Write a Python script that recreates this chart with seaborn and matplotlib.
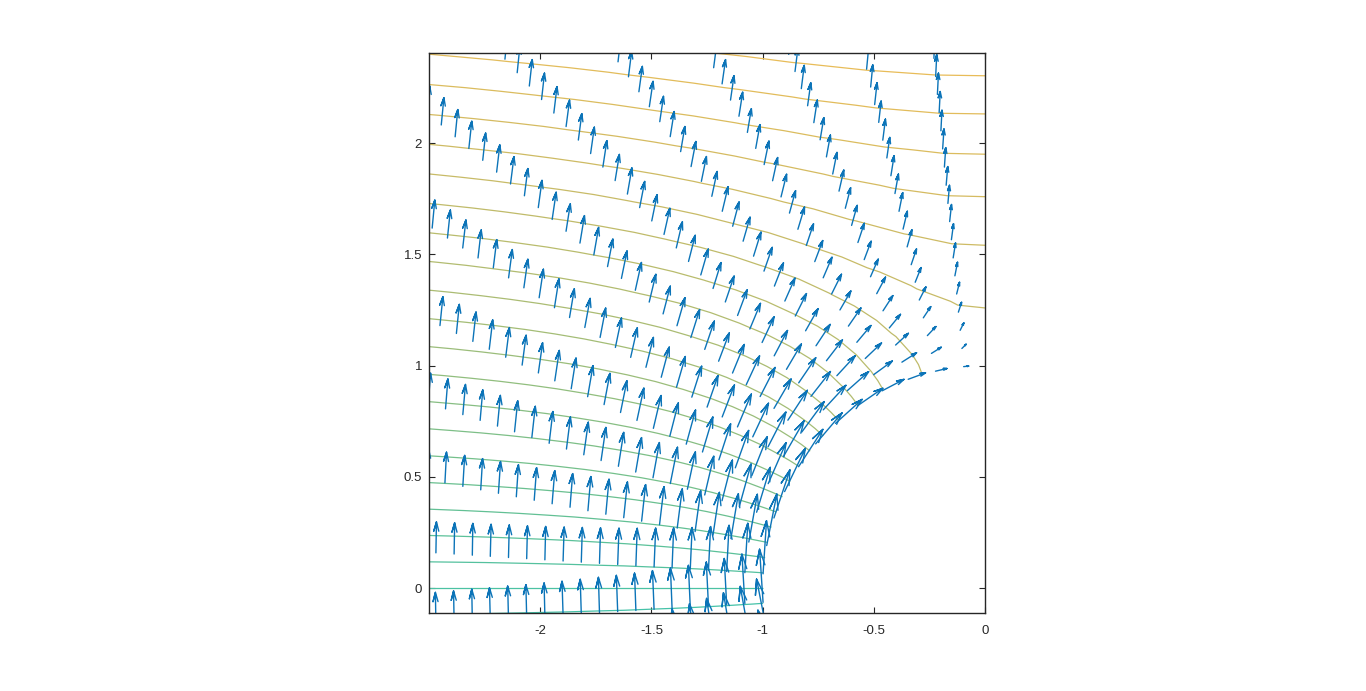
import numpy as np
import pandas as pd
import matplotlib
matplotlib.use("Agg")
import matplotlib.pyplot as plt
import seaborn as sns

# ---- arrows: one list per ray, entries follow radius_values outward ----
radius_values = [1.0, 1.082, 1.164, 1.246, 1.328, 1.41, 1.491, 1.573, 1.655, 1.737,
                 1.819, 1.901, 1.983, 2.065, 2.147, 2.229, 2.31, 2.392, 2.474, 2.556,
                 2.638, 2.72, 2.802, 2.884, 2.966, 3.048, 3.129, 3.211, 3.293]
ray_angles = [-18.37, -11.02, -3.67, 3.67, 11.02, 18.37, 25.71, 33.06, 40.41,
              47.76, 55.10, 62.45, 69.80, 77.14, 84.49]
u_by_ray = [
    [-.60, -.51],
    [-.38, -.32, -.28, -.24, -.21, -.19, -.17],
    [-.13, -.11, -.09, -.08, -.07, -.06, -.06, -.05, -.05, -.04, -.04, -.04, -.03, -.03, -.03, -.03, -.02, -.02, -.02, -.02],
    [.13, .11, .09, .08, .07, .06, .06, .05, .05, .04, .04, .04, .03, .03, .03, .03, .02, .02, .02, .02],
    [.38, .32, .28, .24, .21, .19, .17, .15, .14, .12, .11, .10, .10, .09, .08, .08, .07, .07, .06, .06],
    [.60, .51, .44, .39, .34, .30, .27, .24, .22, .20, .18, .17, .15, .14, .13, .12, .11, .10, .10, .09, .09],
    [.78, .67, .58, .50, .44, .39, .35, .32, .29, .26, .24, .22, .20, .18, .17, .16, .15, .14, .13, .12, .11, .11, .10],
    [.91, .78, .67, .59, .52, .46, .41, .37, .33, .30, .28, .25, .23, .21, .20, .18, .17, .16, .15, .14, .13, .12, .12, .11, .10],
    [.99, .84, .73, .64, .56, .50, .44, .40, .36, .33, .30, .27, .25, .23, .21, .20, .18, .17, .16, .15, .14, .13, .13, .12, .11, .11, .10, .10, .09],
    [1.00, .85, .73, .64, .56, .50, .45, .40, .36, .33, .30, .28, .25, .23, .22, .20, .19, .17, .16, .15, .14, .13, .13, .12, .11, .11, .10, .10, .09],
    [.94, .80, .69, .60, .53, .47, .42, .38, .34, .31, .28, .26, .24, .22, .20, .19, .18, .16, .15, .14, .14, .13, .12, .11, .11],
    [.82, .70, .61, .53, .47, .41, .37, .33, .30, .27, .25, .23, .21, .19, .18, .16, .15, .14, .13, .13, .12, .11],
    [.65, .55, .48, .42, .37, .33, .29, .26, .24, .21, .20, .18, .16, .15, .14, .13, .12, .11, .11, .10],
    [.43, .37, .32, .28, .25, .22, .20, .18, .16, .14, .13, .12, .11, .10, .09, .09, .08, .08, .07],
    [.19, .16, .14, .12, .11, .10, .09, .08, .07, .06, .06, .05, .05, .04, .04, .04, .04, .03],
]
v_by_ray = [
    [1.80, 1.68],
    [1.93, 1.79, 1.68, 1.60, 1.53, 1.47, 1.42],
    [1.99, 1.85, 1.73, 1.64, 1.56, 1.50, 1.45, 1.40, 1.36, 1.33, 1.30, 1.27, 1.25, 1.23, 1.22, 1.20, 1.19, 1.17, 1.16, 1.15],
    [1.99, 1.85, 1.73, 1.64, 1.56, 1.50, 1.45, 1.40, 1.36, 1.33, 1.30, 1.27, 1.25, 1.23, 1.22, 1.20, 1.19, 1.17, 1.16, 1.15],
    [1.93, 1.79, 1.68, 1.60, 1.53, 1.47, 1.42, 1.37, 1.34, 1.31, 1.28, 1.26, 1.24, 1.22, 1.20, 1.19, 1.17, 1.16, 1.15, 1.14],
    [1.80, 1.68, 1.59, 1.52, 1.45, 1.40, 1.36, 1.32, 1.29, 1.27, 1.24, 1.22, 1.20, 1.19, 1.17, 1.16, 1.15, 1.14, 1.13, 1.12, 1.12],
    [1.62, 1.53, 1.46, 1.40, 1.35, 1.31, 1.28, 1.25, 1.23, 1.21, 1.19, 1.17, 1.16, 1.15, 1.14, 1.13, 1.12, 1.11, 1.10, 1.10, 1.09, 1.08, 1.08],
    [1.40, 1.35, 1.30, 1.26, 1.23, 1.20, 1.18, 1.16, 1.15, 1.13, 1.12, 1.11, 1.10, 1.10, 1.09, 1.08, 1.08, 1.07, 1.07, 1.06, 1.06, 1.05, 1.05, 1.05, 1.05],
    [1.16, 1.14, 1.12, 1.10, 1.09, 1.08, 1.07, 1.06, 1.06, 1.05, 1.05, 1.04, 1.04, 1.04, 1.03, 1.03, 1.03, 1.03, 1.03, 1.02, 1.02, 1.02, 1.02, 1.02, 1.02, 1.02, 1.02, 1.02, 1.01],
    [.90, .92, .93, .94, .95, .95, .96, .96, .96, .97, .97, .97, .98, .98, .98, .98, .98, .98, .98, .99, .99, .99, .99, .99, .99, .99, .99, .99, .99],
    [.65, .71, .75, .78, .80, .83, .84, .86, .87, .89, .90, .90, .91, .92, .93, .93, .94, .94, .94, .95, .95, .95, .96, .96, .96],
    [.43, .51, .58, .63, .68, .71, .74, .77, .79, .81, .83, .84, .85, .87, .88, .89, .89, .90, .91, .91, .92, .92],
    [.24, .35, .44, .51, .57, .62, .66, .69, .72, .75, .77, .79, .81, .82, .83, .85, .86, .87, .88, .88],
    [.10, .23, .34, .42, .49, .55, .59, .64, .67, .70, .73, .75, .77, .79, .80, .82, .83, .84, .85],
    [.02, .16, .28, .37, .44, .51, .56, .60, .64, .68, .70, .73, .75, .77, .79, .80, .82, .83],
]

# ---- contour field on a polar table (rows: angle, columns: radius) ----
field_radii = [1, 1.05, 1.1, 1.2, 1.3, 1.4, 1.5, 1.625, 1.75, 1.875, 2, 2.125, 2.25,
               2.375, 2.5, 2.625, 2.75, 2.875, 3, 3.125, 3.25, 3.375, 3.5]
field_angles = [-11.02, -3.67, 3.67, 11.02, 18.37, 25.71, 33.06, 40.41, 47.76,
                55.10, 62.45, 69.80, 77.14, 84.49, 91.84]
field_values = [
    [-.382, -.383, -.384, -.389, -.395, -.404, -.414, -.428, -.444, -.460, -.478, -.496, -.515, -.534, -.554, -.574, -.595, -.616, -.637, -.658, -.680, -.702, -.723],
    [-.128, -.128, -.129, -.130, -.132, -.135, -.139, -.143, -.149, -.154, -.160, -.166, -.172, -.179, -.186, -.192, -.199, -.206, -.213, -.220, -.228, -.235, -.242],
    [.128, .128, .129, .130, .132, .135, .139, .143, .149, .154, .160, .166, .172, .179, .186, .192, .199, .206, .213, .220, .228, .235, .242],
    [.382, .383, .384, .389, .395, .404, .414, .428, .444, .460, .478, .496, .515, .534, .554, .574, .595, .616, .637, .658, .680, .702, .723],
    [.630, .631, .633, .641, .652, .666, .683, .706, .732, .759, .788, .818, .849, .881, .914, .947, .981, 1.016, 1.051, 1.086, 1.121, 1.157, 1.193],
    [.868, .869, .872, .882, .898, .917, .940, .972, 1.007, 1.045, 1.085, 1.126, 1.169, 1.213, 1.258, 1.304, 1.351, 1.398, 1.446, 1.494, 1.543, 1.593, 1.642],
    [1.091, 1.092, 1.096, 1.109, 1.129, 1.153, 1.182, 1.222, 1.266, 1.314, 1.364, 1.416, 1.470, 1.525, 1.582, 1.640, 1.698, 1.758, 1.818, 1.879, 1.941, 2.003, 2.065],
    [1.297, 1.298, 1.303, 1.318, 1.341, 1.371, 1.405, 1.452, 1.505, 1.561, 1.621, 1.683, 1.747, 1.813, 1.880, 1.949, 2.019, 2.089, 2.161, 2.233, 2.306, 2.380, 2.454],
    [1.481, 1.483, 1.488, 1.506, 1.532, 1.566, 1.604, 1.659, 1.719, 1.783, 1.851, 1.922, 1.995, 2.071, 2.147, 2.226, 2.306, 2.386, 2.468, 2.551, 2.634, 2.719, 2.803],
    [1.640, 1.642, 1.648, 1.668, 1.697, 1.734, 1.777, 1.838, 1.904, 1.975, 2.051, 2.129, 2.210, 2.293, 2.379, 2.466, 2.554, 2.643, 2.734, 2.826, 2.918, 3.011, 3.105],
    [1.773, 1.775, 1.781, 1.803, 1.835, 1.875, 1.921, 1.986, 2.058, 2.135, 2.217, 2.301, 2.389, 2.479, 2.571, 2.665, 2.761, 2.857, 2.955, 3.054, 3.154, 3.255, 3.356],
    [1.877, 1.879, 1.886, 1.908, 1.942, 1.984, 2.033, 2.103, 2.179, 2.260, 2.346, 2.436, 2.529, 2.624, 2.722, 2.821, 2.922, 3.025, 3.128, 3.233, 3.339, 3.445, 3.553],
    [1.950, 1.952, 1.959, 1.982, 2.017, 2.061, 2.112, 2.184, 2.263, 2.348, 2.437, 2.530, 2.627, 2.726, 2.827, 2.931, 3.035, 3.142, 3.250, 3.359, 3.468, 3.579, 3.691],
    [1.991, 1.993, 2.000, 2.024, 2.060, 2.105, 2.157, 2.230, 2.311, 2.397, 2.489, 2.584, 2.682, 2.783, 2.887, 2.992, 3.099, 3.208, 3.318, 3.429, 3.541, 3.654, 3.768],
    [1.999, 2.001, 2.008, 2.032, 2.068, 2.113, 2.166, 2.239, 2.320, 2.407, 2.499, 2.594, 2.693, 2.795, 2.899, 3.004, 3.112, 3.221, 3.332, 3.443, 3.556, 3.669, 3.784],
]
contour_levels = [-.137, 0, .137, .274, .410, .547, .684, .821, .958, 1.094, 1.231,
                  1.368, 1.505, 1.642, 1.778, 1.915, 2.052, 2.189, 2.326, 2.462, 2.599, 2.736]

x_ticks = [-2, -1.5, -1, -.5, 0]
y_ticks = [0, .5, 1, 1.5, 2]
x_tick_labels = ["-2", "-1.5", "-1", "-0.5", "0"]
y_tick_labels = ["0", "0.5", "1", "1.5", "2"]

sns.set_theme(style="white")
plt.rcParams["font.family"] = ["Liberation Sans", "DejaVu Sans"]

W, H = 1366, 691
fig = plt.figure(figsize=(W / 100, H / 100), dpi=100, facecolor="white")
ax = fig.add_axes([429 / W, (H - 613) / H, 556 / W, 560 / H])

# contours
rr, tt = np.meshgrid(field_radii, np.radians(field_angles))
line_colors = sns.blend_palette(["#45c2a8", "#6cc08e", "#a0bd78", "#c6bb68", "#e8bc58"],
                                n_colors=len(contour_levels))
ax.contour(-rr * np.cos(tt), rr * np.sin(tt), np.array(field_values),
           levels=contour_levels, colors=line_colors, linewidths=0.9, zorder=1)

# arrows: each one is a polyline drawn by seaborn
ARROW_SCALE = 0.12
HEAD_LEN = 0.30
HEAD_WID = 0.27
rows = []
arrow_id = 0
for angle, us, vs in zip(ray_angles, u_by_ray, v_by_ray):
    th = np.radians(angle)
    for radius, u, v in zip(radius_values, us, vs):
        x0, y0 = -radius * np.cos(th), radius * np.sin(th)
        du, dv = ARROW_SCALE * u, ARROW_SCALE * v
        xt, yt = x0 + du, y0 + dv
        bx1 = xt - HEAD_LEN * (du + HEAD_WID * dv)
        by1 = yt - HEAD_LEN * (dv - HEAD_WID * du)
        bx2 = xt - HEAD_LEN * (du - HEAD_WID * dv)
        by2 = yt - HEAD_LEN * (dv + HEAD_WID * du)
        for step, (px, py) in enumerate([(x0, y0), (xt, yt), (bx1, by1), (xt, yt), (bx2, by2)]):
            rows.append((arrow_id, step, px, py))
        arrow_id += 1
arrows = pd.DataFrame(rows, columns=["arrow", "step", "x", "y"])
sns.lineplot(data=arrows, x="x", y="y", units="arrow", estimator=None, sort=False,
             color="#0C74B8", linewidth=1.0, legend=False, ax=ax, zorder=2,
             solid_joinstyle="round")

ax.set_xlim(-2.5, 0)
ax.set_ylim(-0.112, 2.405)
ax.set_xlabel("")
ax.set_ylabel("")
ax.set_xticks(x_ticks, x_tick_labels)
ax.set_yticks(y_ticks, y_tick_labels)
ax.tick_params(axis="both", direction="in", length=4.3, width=0.8, color="#262626",
               labelcolor="#262626", labelsize=9.5, top=True, right=True, bottom=True,
               left=True, pad=5)
ax.tick_params(axis="x", pad=8.6)
for s in ax.spines.values():
    s.set_visible(True)
    s.set_color("#262626")
    s.set_linewidth(1.0)

fig.savefig("out.png", dpi=100, facecolor="white")
